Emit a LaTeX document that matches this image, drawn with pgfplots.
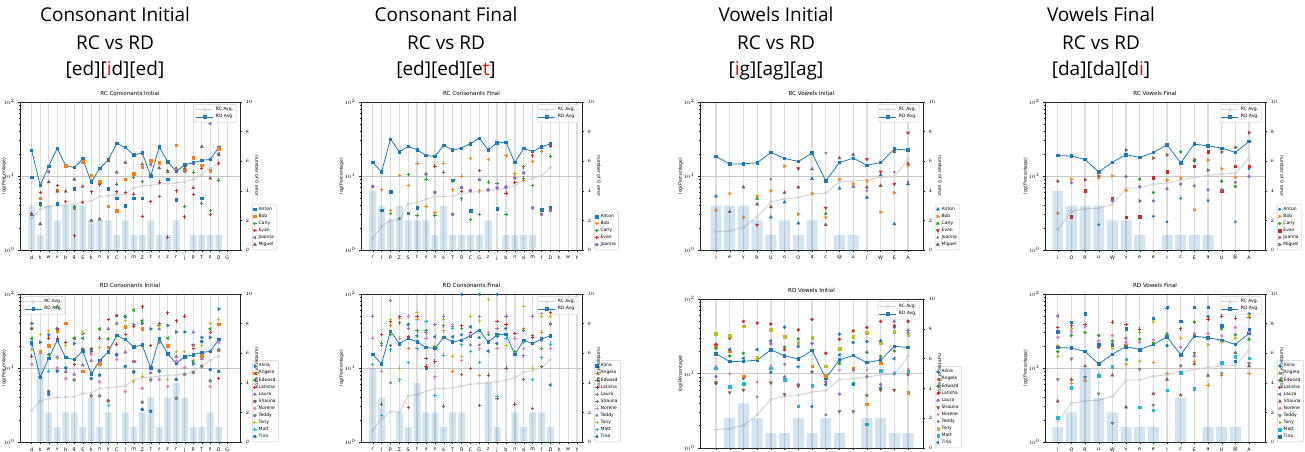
\documentclass[border=0pt]{standalone}
\usepackage{pgfplots}
\pgfplotsset{compat=1.18}
\usepackage{fontspec}
\setmainfont{DejaVu Sans}
\newfontfamily\titlefont{Open Sans}
\definecolor{c0}{HTML}{1F77B4}
\definecolor{c1}{HTML}{FF7F0E}
\definecolor{c2}{HTML}{2CA02C}
\definecolor{c3}{HTML}{D62728}
\definecolor{c4}{HTML}{9467BD}
\definecolor{c5}{HTML}{8C564B}
\definecolor{c6}{HTML}{E377C2}
\definecolor{c7}{HTML}{7F7F7F}
\definecolor{c8}{HTML}{BCBD22}
\definecolor{c9}{HTML}{17BECF}
\definecolor{rcg}{HTML}{D3D3D3}
\definecolor{gridc}{HTML}{DDDDDD}
\pgfplotsset{
  every axis x grid/.append style={gridc, line width=1.3pt},
  every axis y grid/.append style={black!22, line width=0.6pt},
  mainax/.style={scale only axis, anchor=south west,
    tick align=outside, xtick pos=left, ytick pos=left,
    major tick length=2pt, minor tick length=1.2pt,
    tick style={line width=0.4pt, black!85},
    axis line style={line width=0.5pt, black!85},
    xmajorgrids, ymajorgrids,
    ylabel={log(Percentage)}, ylabel style={font=\fontsize{4.6}{5}\selectfont}, ylabel shift=-6pt,
    ticklabel style={font=\fontsize{4.8}{5}\selectfont},
    title style={font=\fontsize{5.6}{6}\selectfont, yshift=-3pt},
    legend style={font=\fontsize{4.5}{5}\selectfont, draw=black!20, rounded corners=1pt,
      inner sep=0.8pt, row sep=-1.5pt, fill=white, fill opacity=0.8, text opacity=1},
    legend cell align=left},
  rcline/.style={color=rcg, line width=0.9pt, mark=*, mark size=1.3pt},
  rdline/.style={color=c0, line width=0.8pt, mark=square*, mark size=1.2pt},
  scatax/.style={scale only axis, anchor=south west, hide axis,
    legend style={at={(1.055,0)}, anchor=south west, font=\fontsize{4.5}{5}\selectfont,
      draw=black!20, rounded corners=1pt, inner sep=0.8pt, row sep=-1.8pt},
    legend cell align=left},
  barax/.style={scale only axis, anchor=south west, ymin=0, ymax=10,
    axis x line=none, axis y line*=right, ytick={0,2,...,10},
    tick align=outside, major tick length=2pt, tick style={line width=0.4pt, black!85},
    axis line style={line width=0.5pt, black!85},
    ylabel={number of 0 error}, ylabel style={rotate=180, font=\fontsize{4.6}{5}\selectfont}, ylabel shift=-4pt,
    ticklabel style={font=\fontsize{4.8}{5}\selectfont}},
  barplot/.style={ybar, bar width=0.8, bar shift=0pt, fill=c0, fill opacity=0.2, draw=none},
  msq/.style={only marks, mark=square*, mark size=1.3pt},
  mpl/.style={only marks, mark=+, mark size=1.7pt, line width=0.9pt},
  mci/.style={only marks, mark=*, mark size=1.5pt},
  mtu/.style={only marks, mark=triangle*, mark size=1.8pt},
  mtd/.style={only marks, mark=triangle*, mark size=1.8pt, mark options={rotate=180}},
  mtl/.style={only marks, mark=triangle*, mark size=1.8pt, mark options={rotate=90}},
  mtr/.style={only marks, mark=triangle*, mark size=1.8pt, mark options={rotate=-90}},
  moc/.style={only marks, mark=pentagon*, mark size=1.6pt},
  gAt/.style={at={(20pt,201pt)}, width=220pt, height=148pt, xmin=-1.376, xmax=24.5},
  gAb/.style={at={(20pt,9pt)}, width=220pt, height=148pt, xmin=-1.376, xmax=24.5},
  gBt/.style={at={(361pt,201pt)}, width=221pt, height=148pt, xmin=-1.32, xmax=23.56},
  gBb/.style={at={(361pt,9pt)}, width=221pt, height=148pt, xmin=-1.32, xmax=23.56},
  gCt/.style={at={(700pt,201pt)}, width=223pt, height=148pt, xmin=-1.165, xmax=15.09},
  gCb/.style={at={(700pt,3pt)}, width=223pt, height=149pt, xmin=-1.165, xmax=15.09},
  gDt/.style={at={(1045pt,201pt)}, width=220pt, height=148pt, xmin=-0.93, xmax=15.17},
  gDb/.style={at={(1045pt,9pt)}, width=220pt, height=148pt, xmin=-0.93, xmax=15.17},
}
\begin{document}
\begin{tikzpicture}
\useasboundingbox (0,0) rectangle (1305pt,451pt);
\tikzset{bt/.style={font=\titlefont\fontsize{19}{23}\selectfont, anchor=base}}
\node[bt] at (115pt,429pt) {Consonant Initial};
\node[bt] at (115pt,402pt) {RC vs RD};
\node[bt] at (115pt,376pt) {[ed][\textcolor{red}{i}d][ed]};
\node[bt] at (446pt,429pt) {Consonant Final};
\node[bt] at (446pt,402pt) {RC vs RD};
\node[bt] at (446pt,376pt) {[ed][ed][e\textcolor{red}{t}]};
\node[bt] at (776pt,429pt) {Vowels Initial};
\node[bt] at (776pt,402pt) {RC vs RD};
\node[bt] at (776pt,376pt) {[\textcolor{red}{i}g][ag][ag]};
\node[bt] at (1101pt,429pt) {Vowels Final};
\node[bt] at (1101pt,402pt) {RC vs RD};
\node[bt] at (1101pt,376pt) {[da][da][d\textcolor{red}{i}]};

% ================= COLUMN 1 TOP
\begin{axis}[mainax, gAt, ylabel shift=-9.5pt, ymode=log, ymin=1, ymax=100, xtick={0,...,23}, xticklabels={d,h,w,v,b,g,S,k,n,y,C,l,m,Z,t,f,z,r,j,p,T,s,D,G},
  title={RC Consonants Initial}, legend style={at={(0.985,0.985)}, anchor=north east}]
\addplot[rcline] coordinates {(0,2.69)(1,3.56)(2,3.88)(3,4.0)(4,4.04)(5,4.08)(6,4.53)(7,4.58)(8,5.3)(9,5.41)(10,5.58)(11,5.7)(12,6.87)(13,7.39)(14,7.47)(15,7.79)(16,7.95)(17,8.04)(18,8.37)(19,8.92)(20,10.5)(21,12.8)(22,14.5)};
\addlegendentry{RC Avg.}
\addplot[rdline] coordinates {(0,22.2)(1,7.5)(2,13.5)(3,23.6)(4,13.8)(5,13.0)(6,17.0)(7,8.3)(8,12.6)(9,16.5)(10,27.5)(11,24.3)(12,19.3)(13,20.4)(14,10.0)(15,24.7)(16,15.5)(17,11.5)(18,14.2)(19,15.1)(20,16.2)(21,16.8)(22,24.3)};
\addlegendentry{RD Avg.}
\end{axis}
\begin{axis}[scatax, gAt, ymode=log, ymin=1, ymax=100]
\addplot[msq,c0] coordinates {(0,9.6)(1,4.2)(3,4.2)(5,6.7)(6,16.8)(7,8.4)(9,6.7)(10,5.0)(11,4.0)(12,5.0)(13,5.0)(14,10)(16,9.0)(17,4.8)(20,5.0)(22,24.3)};
\addlegendentry{Anton}
\addplot[msq,c1] coordinates {(1,5.0)(3,6.4)(4,13.9)(5,3.7)(6,15.6)(7,10.3)(8,8.4)(9,3.9)(10,3.4)(11,9.1)(12,10.8)(13,13.1)(14,16.2)(15,15)(17,26.1)(18,12)(19,17.8)(20,14)(21,11.9)(22,23.6)};
\addlegendentry{Bob}
\addplot[mpl,c2] coordinates {(1,4.0)(5,3.8)(10,7.8)(12,9.6)(13,8.5)(15,5.3)(16,11.9)(18,3.9)(19,11.3)(20,4.3)(21,3.4)(22,8.8)};
\addlegendentry{Carly}
\addplot[mpl,c3] coordinates {(0,3.1)(1,6.0)(3,7.4)(4,4.5)(5,1.55)(6,4.4)(7,6.1)(8,7.6)(10,6.1)(11,6.0)(12,5.7)(13,2.85)(14,4.5)(15,8.3)(16,1.5)(17,6.3)(18,2.8)(19,5.6)(20,12.6)(21,3.0)(22,14.9)};
\addlegendentry{Evan}
\addplot[mtl,c4] coordinates {(2,11.4)(14,14.3)(18,11.4)(19,14.6)(21,51)(22,20)};
\addlegendentry{Joanna}
\addplot[mtu,c5] coordinates {(0,3.0)(1,2.25)(2,8.3)(3,6.2)(4,6.2)(5,9.0)(6,7.2)(7,2.5)(8,2.6)(9,16.0)(10,11.2)(11,15.2)(13,14.4)(15,12.8)(16,11.3)(17,12.6)(18,12.7)(19,6.9)(20,24.8)(21,9.3)(22,19.2)};
\addlegendentry{Miguel}
\end{axis}
\begin{axis}[barax, gAt]
\addplot[barplot] coordinates {(0,3)(1,1)(2,3)(3,2)(4,3)(5,3)(6,3)(7,2)(8,2)(9,2)(10,1)(11,2)(12,1)(13,1)(14,2)(15,1)(16,1)(17,2)(18,0)(19,1)(20,1)(21,1)(22,1)(23,0)};
\end{axis}

% ================= COLUMN 1 BOTTOM
\begin{axis}[mainax, gAb, ylabel shift=-9.5pt, ymode=log, ymin=1, ymax=100, xtick={0,...,23}, xticklabels={d,h,w,v,b,g,S,k,n,y,C,l,m,Z,t,f,z,r,j,p,T,s,D,G},
  title={RD Consonants Initial}, legend style={at={(0.015,0.985)}, anchor=north west}]
\addplot[rcline] coordinates {(0,2.69)(1,3.56)(2,3.88)(3,4.0)(4,4.04)(5,4.08)(6,4.53)(7,4.58)(8,5.3)(9,5.41)(10,5.58)(11,5.7)(12,6.87)(13,7.39)(14,7.47)(15,7.79)(16,7.95)(17,8.04)(18,8.37)(19,8.92)(20,10.5)(21,12.8)(22,14.5)};
\addlegendentry{RC Avg.}
\addplot[rdline] coordinates {(0,22.2)(1,7.5)(2,13.5)(3,23.6)(4,13.8)(5,13.0)(6,17.0)(7,8.3)(8,12.6)(9,16.5)(10,27.5)(11,24.3)(12,19.3)(13,20.4)(14,10.0)(15,24.7)(16,15.5)(17,11.5)(18,14.2)(19,15.1)(20,16.2)(21,16.8)(22,24.3)};
\addlegendentry{RD Avg.}
\end{axis}
\begin{axis}[scatax, gAb, ymode=log, ymin=1, ymax=100]
\addplot[mtr,c0] coordinates {(0,40)(1,22.3)(2,28.1)(5,21.4)(6,29.3)(7,16.7)(11,49.5)(12,38.4)(13,40)(14,33.8)(16,37.5)(17,30.7)(18,30.7)(19,11.4)(20,25.9)(21,25.9)(22,62.7)};
\addlegendentry{Alina}
\addplot[msq,c1] coordinates {(1,16.7)(2,20.1)(3,31.7)(4,40.4)(5,25.3)(6,9.1)(8,11.2)(9,19.1)(11,36)(12,12.4)(13,33.8)(16,20.1)(20,14.6)(22,39.2)};
\addlegendentry{Angela}
\addplot[mtl,c2] coordinates {(0,25)(2,15.2)(3,67.3)(5,25.3)(6,25.3)(8,33.6)(9,24.8)(11,49.5)(12,60.6)(13,43.4)(15,37.5)(16,25.3)(19,12.4)(21,33.8)};
\addlegendentry{Edward}
\addplot[mpl,c3] coordinates {(0,14.5)(2,25.3)(3,25.3)(4,22.3)(5,11.2)(7,18.3)(8,25.3)(9,45.3)(10,21.1)(11,28.6)(12,36.8)(13,67)(14,20.1)(15,40)(16,55.7)(17,43.4)(18,50.2)(19,18.5)(21,30.1)(22,7.2)};
\addlegendentry{Latisha}
\addplot[mtu,c4] coordinates {(3,14)(4,8.9)(5,8.2)(6,11)(7,12.5)(8,12.2)(9,33.8)(10,40)(11,16.3)(12,12.2)(14,8.6)(15,33.6)(17,14.2)(19,30.4)(20,13.3)};
\addlegendentry{Laura}
\addplot[moc,c5] coordinates {(0,34)(2,4.8)(3,33.8)(6,17.9)(7,17.9)(9,3.6)(10,50.9)(19,20.3)(22,17.5)};
\addlegendentry{Shauna}
\addplot[mci,c6] coordinates {(0,11.2)(3,10)(4,7.2)(7,15.3)(8,6.5)(10,13.1)(11,4.8)(13,5.3)(15,7)(16,5.6)(17,12.4)(18,10.1)(21,5.6)(22,22.3)};
\addlegendentry{Norene}
\addplot[moc,c7] coordinates {(5,6.9)(7,4.2)(8,4.2)(10,15.3)(12,8.8)(13,3.45)(14,6.9)(15,22.3)(17,3.9)(18,8.2)(19,8.7)(20,10.6)(21,6.7)(22,17.3)};
\addlegendentry{Teddy}
\addplot[mpl,c8] coordinates {(0,18)(1,28.6)(2,31.7)(3,13.5)(4,20.3)(6,30.7)(8,18.9)(11,43.8)(12,6.5)(13,7.8)(15,36.5)(16,7.1)(17,16.7)(18,16.7)(19,19.4)(20,20.1)(21,40)(22,45.3)};
\addlegendentry{Tony}
\addplot[mpl,c9] coordinates {(2,9.1)(9,3.1)};
\addlegendentry{Matt}
\addplot[moc,c0] coordinates {(0,21)(1,7.5)(2,4.4)(3,9.1)(4,10)(6,17)(7,7.2)(8,8)(10,15)(11,10.5)(12,8.9)(13,2.75)(14,2.6)(15,9.1)(17,7)(20,22.8)(21,9.5)(22,9)};
\addlegendentry{Tina}
\end{axis}
\begin{axis}[barax, gAb]
\addplot[barplot] coordinates {(0,0)(1,6)(2,2)(3,1)(4,2)(5,2)(6,1)(7,3)(8,1)(9,2)(10,0)(11,2)(12,1)(13,2)(14,3)(15,1)(16,3)(17,4)(18,3)(19,1)(20,1)(21,2)(22,1)(23,0)};
\end{axis}

% ================= COLUMN 2 TOP
\begin{axis}[mainax, gBt, ymode=log, ymin=1, ymax=100, xtick={0,...,23}, xticklabels={r,l,p,Z,S,t,v,s,k,T,g,C,G,z,j,b,n,d,m,f,D,h,w,y},
  title={RC Consonants Final}, legend style={at={(0.985,0.985)}, anchor=north east}]
\addplot[rcline] coordinates {(0,1.44)(1,2.07)(2,2.55)(3,2.55)(4,4.2)(5,4.38)(6,4.86)(7,5.28)(8,5.28)(9,5.39)(10,5.73)(11,6.04)(12,6.17)(13,6.36)(14,6.5)(15,6.84)(16,7.44)(17,8.69)(18,9.25)(19,10.05)(20,13.0)};
\addlegendentry{RC Avg.}
\addplot[rdline] coordinates {(0,15.2)(1,11.4)(2,31.5)(3,21.3)(4,25.1)(5,22.6)(6,18.9)(7,18.4)(8,25.9)(9,22.4)(10,23.8)(11,27.3)(12,32.5)(13,22.4)(14,28.1)(15,28.7)(16,15.2)(17,23.6)(18,21.5)(19,24.6)(20,27.3)};
\addlegendentry{RD Avg.}
\end{axis}
\begin{axis}[scatax, gBt, ymode=log, ymin=1, ymax=100]
\addplot[msq,c0] coordinates {(1,3.45)(2,6.1)(4,3.14)(5,3.75)(9,8.8)(11,3.4)(14,3.6)(19,3.5)(20,3.75)};
\addlegendentry{Anton}
\addplot[mpl,c1] coordinates {(1,6.5)(2,3.4)(3,10.1)(4,7.5)(5,15)(6,3.86)(7,3.24)(8,15)(9,6.5)(10,10)(11,17.5)(12,6.3)(13,16.6)(15,18.7)(16,10.7)(17,8.7)(18,15.6)(19,21.2)};
\addlegendentry{Bob}
\addplot[mpl,c2] coordinates {(2,3.14)(3,2.65)(4,10.4)(5,2.95)(6,9.1)(7,2.95)(8,11.3)(9,8.4)(10,4.9)(11,2.6)(12,3.04)(13,8.3)(14,7.9)(15,3.04)(17,9.4)(18,7.4)(20,18.4)};
\addlegendentry{Carly}
\addplot[mpl,c3] coordinates {(7,13.6)(10,6.2)(12,11.9)(15,5.9)(16,8.2)(17,13.3)(18,18.7)(20,25.1)};
\addlegendentry{Evan}
\addplot[moc,c4] coordinates {(0,7.2)(6,10.6)(7,6.0)(9,3.04)(10,7)(11,6.36)(12,8.9)(13,6.5)(14,6.9)(15,7.1)(16,9.4)(17,11)(18,3.7)(19,3.04)(20,3.4)};
\addlegendentry{Joanna}
\end{axis}
\begin{axis}[barax, gBt]
\addplot[barplot] coordinates {(0,4)(1,3)(2,2)(3,3)(4,2)(5,2)(6,2)(7,1)(8,3)(9,1)(10,1)(11,1)(12,1)(13,2)(14,0)(15,1)(16,1)(17,1)(18,1)(19,0)(20,0)(21,0)(22,0)(23,0)};
\end{axis}

% ================= COLUMN 2 BOTTOM
\begin{axis}[mainax, gBb, ymode=log, ymin=1, ymax=100, xtick={0,...,23}, xticklabels={r,l,p,Z,S,t,v,s,k,T,g,C,G,z,j,b,n,d,m,f,D,h,w,y},
  title={RD Consonants Final}, legend style={at={(0.985,0.985)}, anchor=north east}]
\addplot[rcline] coordinates {(0,1.44)(1,2.07)(2,2.55)(3,2.55)(4,4.2)(5,4.38)(6,4.86)(7,5.28)(8,5.28)(9,5.39)(10,5.73)(11,6.04)(12,6.17)(13,6.36)(14,6.5)(15,6.84)(16,7.44)(17,8.69)(18,9.25)(19,10.05)(20,13.0)};
\addlegendentry{RC Avg.}
\addplot[rdline] coordinates {(0,15.2)(1,11.4)(2,31.5)(3,21.3)(4,25.1)(5,22.6)(6,18.9)(7,18.4)(8,25.9)(9,22.4)(10,23.8)(11,27.3)(12,32.5)(13,22.4)(14,28.1)(15,28.7)(16,15.2)(17,23.6)(18,21.5)(19,24.6)(20,27.3)};
\addlegendentry{RD Avg.}
\end{axis}
\begin{axis}[scatax, gBb, ymode=log, ymin=1, ymax=100]
\addplot[msq,c0] coordinates {(6,10)};
\addlegendentry{Alina}
\addplot[mpl,c1] coordinates {(2,37.9)(3,46.8)(4,18.5)(5,45.3)(6,30)(7,38.4)(8,31.8)(9,9.1)(12,7.9)(17,34.1)(19,30.7)};
\addlegendentry{Angela}
\addplot[mpl,c2] coordinates {(1,21.8)(2,28.6)(3,40.8)(5,31.8)(6,31.8)(7,19.4)(8,37.1)(10,34.4)(13,28.6)(14,27.2)(16,16.7)(17,32.5)(18,27.5)(19,18.5)(20,38.4)};
\addlegendentry{Edward}
\addplot[mpl,c3] coordinates {(1,28.6)(2,42.2)(3,49.5)(4,26.9)(5,49.5)(6,10.6)(7,12.1)(10,37.1)(11,30)(14,42.2)(15,38.4)(16,29.3)(18,26.1)(20,55.7)};
\addlegendentry{Latisha}
\addplot[mpl,c4] coordinates {(0,50.3)(1,20.1)(2,82)(4,34.1)(6,29.8)(7,38.4)(8,50.3)(9,36.5)(12,49.5)(14,34.1)(15,50.3)(17,14.6)(18,50.3)};
\addlegendentry{Laura}
\addplot[mpl,c5] coordinates {(1,3.25)(2,20.1)(3,6.9)(4,2.9)(6,13.5)(7,12.4)(8,3.05)(10,8.2)(11,9.9)(12,3.1)(13,8.0)(14,3.9)(15,10)(16,3.25)(17,7)(18,2.83)(19,10.4)};
\addlegendentry{Shauna}
\addplot[mpl,c6] coordinates {(0,25.3)(1,9.1)(3,25.3)(4,50.3)(5,18.1)(6,25.3)(7,7.6)(9,38.4)(10,12.6)(11,28.1)(12,18.1)(13,30.4)(14,18.3)(16,25.3)(17,18.1)(19,54.6)(20,18.5)};
\addlegendentry{Norene}
\addplot[mci,c7,mark size=1.2pt] coordinates {(2,6.3)(11,20.5)(12,20.5)(19,23.4)(20,40)};
\addlegendentry{Teddy}
\addplot[mpl,c8] coordinates {(2,45.3)(3,10)(4,40)(5,56.4)(8,45.7)(9,14.4)(10,14.4)(11,50.3)(12,43.4)(13,84.9)(15,20.3)(17,67.3)(18,10)(19,50.3)(20,50.3)};
\addlegendentry{Tony}
\addplot[mpl,c9] coordinates {(0,11.2)(1,2.3)(2,17.6)(3,7)(4,11.8)(5,18.5)(6,42.5)(7,4.25)(8,15)(9,34.1)(10,20.5)(11,16.7)(12,11.8)(14,4.1)(15,25.3)(17,22)(18,7)(19,13.7)(20,21)};
\addlegendentry{Matt}
\addplot[mtl,c0] coordinates {(4,38.4)(5,27.2)(7,26.4)(9,26.4)(10,28.1)(11,36)(12,25.9)(13,16.9)(14,21.4)(15,34.1)(20,5.9)(10,99)(12,99)(14,99)};
\addlegendentry{Tina}
\end{axis}
\begin{axis}[barax, gBb]
\addplot[barplot] coordinates {(0,5)(1,3)(2,0)(3,2)(4,1)(5,4)(6,2)(7,2)(8,1)(9,2)(10,2)(11,0)(12,0)(13,4)(14,1)(15,0)(16,2)(17,1)(18,2)(19,2)(20,1)(21,0)(22,0)(23,0)};
\end{axis}

% ================= COLUMN 3 TOP
\begin{axis}[mainax, gCt, ymode=log, ymin=1, ymax=100, xtick={0,...,14}, xticklabels={I,e,Y,R,U,o,O,a,c,@,u,i,W,E,A},
  title={RC Vowels Initial}, legend style={at={(0.985,0.985)}, anchor=north east}]
\addplot[rcline] coordinates {(0,1.77)(1,1.81)(2,2.01)(3,2.8)(4,4.47)(5,4.91)(6,5.11)(7,5.67)(8,5.92)(9,8.34)(10,8.51)(11,8.87)(12,9.64)(13,9.75)(14,16.9)};
\addlegendentry{RC Avg.}
\addplot[rdline] coordinates {(0,18.4)(1,14.5)(2,14.6)(3,15.1)(4,20.8)(5,17.3)(6,15.7)(7,20.4)(8,8.6)(9,15.2)(10,17.4)(11,14.0)(12,15.2)(13,23.1)(14,22.4)};
\addlegendentry{RD Avg.}
\end{axis}
\begin{axis}[scatax, gCt, ymode=log, ymin=1, ymax=100]
\addplot[mtu,c0] coordinates {(0,5.33)(4,2.77)(5,4.42)(6,2.3)(7,9.2)(9,6.8)(10,7.2)(11,5.1)(12,10.3)(13,2.25)(14,7.8)};
\addlegendentry{Anton}
\addplot[mtr,c1] coordinates {(0,3.45)(1,5.8)(2,2.77)(3,5.33)(4,6.3)(5,13.6)(6,3.04)(7,5.8)(8,2.77)(9,9.04)(10,7.8)(11,8.5)(12,3.24)(13,5.9)(14,13.9)};
\addlegendentry{Bob}
\addplot[mtu,c2] coordinates {(3,4.96)(8,3.1)};
\addlegendentry{Carly}
\addplot[mtd,c3] coordinates {(3,2.18)(6,12.6)(8,3.7)(11,16.9)(12,11.4)(13,7.8)(14,38.5)};
\addlegendentry{Evan}
\addplot[mci,c4,mark size=1.1pt] coordinates {(4,9.04)(8,20.4)(10,7.2)(11,6.36)(13,11.3)(14,8.34)};
\addlegendentry{Joanna}
\addplot[mtu,c5] coordinates {(1,3.3)(2,7.06)(3,4.15)(4,3.82)(5,6.0)(6,7.06)(7,12.4)(8,2.18)(9,17.5)(10,19.5)(11,7.06)(12,7.4)(13,21.2)(14,14.7)};
\addlegendentry{Miguel}
\end{axis}
\begin{axis}[barax, gCt]
\addplot[barplot] coordinates {(0,3)(1,3)(2,3)(3,2)(4,1)(5,2)(6,1)(7,2)(8,0)(9,1)(10,1)(11,0)(12,0)(13,0)(14,0)};
\end{axis}

% ================= COLUMN 3 BOTTOM
\begin{axis}[mainax, gCb, ymode=log, ymin=1, ymax=100, xtick={0,...,14}, xticklabels={I,e,Y,R,U,o,O,a,c,@,u,i,W,E,A},
  title={RD Vowels Initial}, legend style={at={(0.985,0.985)}, anchor=north east}]
\addplot[rcline] coordinates {(0,1.77)(1,1.81)(2,2.01)(3,2.8)(4,4.47)(5,4.91)(6,5.11)(7,5.67)(8,5.92)(9,8.34)(10,8.51)(11,8.87)(12,9.64)(13,9.75)(14,16.9)};
\addlegendentry{RC Avg.}
\addplot[rdline] coordinates {(0,18.4)(1,14.5)(2,14.6)(3,15.1)(4,20.8)(5,17.3)(6,15.7)(7,20.4)(8,8.6)(9,15.2)(10,17.4)(11,14.0)(12,15.2)(13,23.1)(14,22.4)};
\addlegendentry{RD Avg.}
\end{axis}
\begin{axis}[scatax, gCb, ymode=log, ymin=1, ymax=100]
\addplot[mci,c0] coordinates {(0,7.4)(2,8.6)(4,10.4)(5,41.9)(6,23.0)(9,33.7)(10,26.1)(11,26.9)(12,27.4)(13,41.9)};
\addlegendentry{Alina}
\addplot[msq,c1] coordinates {(0,23.7)(1,19.9)(2,9.25)(7,12.5)(8,9.35)(10,11.8)(11,3.88)(12,13.7)(14,5.57)};
\addlegendentry{Angela}
\addplot[mci,c2] coordinates {(0,21.8)(1,17.2)(2,18.7)(3,15.7)(5,22.6)(6,29.2)(9,13.6)(11,19.3)(12,17.0)(13,20.1)(14,34.8)};
\addlegendentry{Edward}
\addplot[mci,c3] coordinates {(0,24.7)(1,29.8)(2,50)(3,47.5)(4,46.1)(5,20.9)(6,38.6)(7,53.3)(8,18.7)(9,28.8)(10,37.3)(11,41.4)(12,50)(13,43.7)(14,50)};
\addlegendentry{Latisha}
\addplot[mci,c4] coordinates {(0,9.06)(4,25)(5,9.06)(6,7.1)(7,25.3)(8,7.75)(9,5.3)(10,11.1)(11,9.1)(12,7.1)(13,50)(14,38.1)};
\addlegendentry{Laura}
\addplot[mtd,c5] coordinates {(0,7.6)(1,5.57)(2,6.0)(4,7.5)(5,5.25)(6,6.8)(7,10.5)(9,3.1)(10,3.1)(11,5.08)(12,6.0)(13,6.0)(14,9.7)};
\addlegendentry{Shauna}
\addplot[mci,c6,mark size=1.2pt] coordinates {(0,12.6)(1,9.9)(3,7.68)(4,12.6)(9,11.1)(11,11.2)(13,10.3)(14,11.4)};
\addlegendentry{Norene}
\addplot[mci,c7,mark size=1.2pt] coordinates {(3,4.86)(5,13.3)(8,2.78)};
\addlegendentry{Teddy}
\addplot[msq,c8] coordinates {(0,34.1)(1,32.3)(2,43.1)(3,16.3)(4,38.6)(5,31.3)(6,26.1)(7,30.1)(8,12.5)(9,21.4)(10,31.3)(11,35.4)(12,25.6)(13,36.4)(14,33)};
\addlegendentry{Tony}
\addplot[msq,c9] coordinates {(0,11.8)(1,6.6)(2,7.3)(4,11.8)(5,8.2)(6,3.65)(7,6.9)(10,7.3)(11,2.1)(12,11.0)(13,10.1)(14,10.6)};
\addlegendentry{Matt}
\addplot[mtl,c0] coordinates {(1,21.1)(2,16)(3,20.9)(4,27.4)(6,12.3)(7,3.6)(8,7.1)(9,17.8)(10,7.2)(12,6.4)(13,15.8)};
\addlegendentry{Tina}
\end{axis}
\begin{axis}[barax, gCb]
\addplot[barplot] coordinates {(0,0)(1,2)(2,3)(3,2)(4,1)(5,1)(6,2)(7,1)(8,2)(9,1)(10,0)(11,2)(12,2)(13,1)(14,1)};
\end{axis}

% ================= COLUMN 4 TOP
\begin{axis}[mainax, gDt, ymode=log, ymin=1, ymax=100, xtick={0,...,14}, xticklabels={i,O,R,u,W,Y,e,e,I,c,E,a,U,@,A},
  title={RC Vowels Final}, legend style={at={(0.985,0.985)}, anchor=north east}]
\addplot[rcline] coordinates {(0,1.91)(1,3.34)(2,3.59)(3,3.67)(4,4.11)(5,6.84)(6,6.91)(7,7.75)(8,8.08)(9,8.87)(10,9.55)(11,10.2)(12,10.6)(13,10.9)(14,17.4)};
\addlegendentry{RC Avg.}
\addplot[rdline] coordinates {(0,18.9)(1,18.6)(2,16.7)(3,11.3)(4,15.4)(5,19.4)(6,17.8)(7,20.8)(8,26.4)(9,15.1)(10,27)(11,25.6)(12,23.8)(13,20.8)(14,29.3)};
\addlegendentry{RD Avg.}
\end{axis}
\begin{axis}[scatax, gDt, ymode=log, ymin=1, ymax=100]
\addplot[mci,c0,mark size=1.2pt] coordinates {(3,2.2)(7,2.85)(8,2.4)(9,5.0)(11,4.66)(13,2.4)(14,12.6)};
\addlegendentry{Anton}
\addplot[mtr,c1] coordinates {(0,3.14)(1,9.04)(3,9.4)(4,10)(5,6.36)(8,8.8)(9,9.4)(10,3.48)(11,16.4)(12,12.5)(13,9.6)};
\addlegendentry{Bob}
\addplot[mci,c2] coordinates {(6,9.04)(7,6.0)(9,21.2)(10,16.0)(12,8.5)(13,7.2)};
\addlegendentry{Carly}
\addplot[msq,c3] coordinates {(1,2.8)(2,6.3)(4,4.96)(5,2.77)(6,2.8)(7,9.4)(8,11.5)(10,13.6)(11,21.2)(12,6.3)(13,13.6)(14,13.6)};
\addlegendentry{Evan}
\addplot[mci,c4] coordinates {(1,8.1)(4,4.6)(5,9.8)(6,7.2)(7,4.6)(8,6.7)(9,7.8)(10,7.4)(11,6.5)(12,6.5)(13,8.24)(14,9.9)};
\addlegendentry{Joanna}
\addplot[mtr,c5] coordinates {(0,8.5)(2,8.9)(3,10)(5,22.4)(6,4.6)(7,17.5)(8,19.3)(10,16.7)(11,12.0)(12,21.2)(13,24.4)(14,38.5)};
\addlegendentry{Miguel}
\end{axis}
\begin{axis}[barax, gDt]
\addplot[barplot] coordinates {(0,4)(1,3)(2,3)(3,3)(4,2)(5,2)(6,1)(7,0)(8,1)(9,1)(10,1)(11,1)(12,0)(13,0)(14,0)};
\end{axis}

% ================= COLUMN 4 BOTTOM
\begin{axis}[mainax, gDb, ymode=log, ymin=1, ymax=100, xtick={0,...,14}, xticklabels={i,O,R,u,W,Y,e,e,I,c,E,a,U,@,A},
  title={RD Vowels Final}, legend style={at={(0.985,0.985)}, anchor=north east}]
\addplot[rcline] coordinates {(0,1.91)(1,3.34)(2,3.59)(3,3.67)(4,4.11)(5,6.84)(6,6.91)(7,7.75)(8,8.08)(9,8.87)(10,9.55)(11,10.2)(12,10.6)(13,10.9)(14,17.4)};
\addlegendentry{RC Avg.}
\addplot[rdline] coordinates {(0,18.9)(1,18.6)(2,16.7)(3,11.3)(4,15.4)(5,19.4)(6,17.8)(7,20.8)(8,26.4)(9,15.1)(10,27)(11,25.6)(12,23.8)(13,20.8)(14,29.3)};
\addlegendentry{RD Avg.}
\end{axis}
\begin{axis}[scatax, gDb, ymode=log, ymin=1, ymax=100]
\addplot[mci,c0] coordinates {(8,20.1)(11,49.5)(14,53.7)};
\addlegendentry{Alina}
\addplot[mpl,c1] coordinates {(0,20.1)(1,6.25)(2,6.7)(5,21.1)(6,29.8)(7,11.8)(8,8.4)(10,12.4)(11,5.9)(12,7.9)(14,8.4)};
\addlegendentry{Angela}
\addplot[mci,c2] coordinates {(0,16.7)(1,27.5)(2,30.1)(3,27.5)(4,23.2)(6,24.5)(7,21.8)(8,28.9)(10,41.7)(12,33.8)(13,28.1)(14,24.5)};
\addlegendentry{Edward}
\addplot[mpl,c3] coordinates {(0,35.3)(1,37.1)(2,38.8)(3,19.2)(4,41.7)(5,38.8)(6,33.6)(8,64.6)(9,33.8)(11,45.7)(12,50.3)(13,47.2)(14,48.3)};
\addlegendentry{Latisha}
\addplot[mtl,c4] coordinates {(0,50.3)(5,25.3)(10,14.5)};
\addlegendentry{Laura}
\addplot[mtu,c5] coordinates {(0,3.56)(1,7)(2,10.6)(3,8)(4,8)(5,2.95)(7,4.5)(8,7)(9,4.3)(10,11.3)(11,7.9)(13,16.1)(14,10.6)};
\addlegendentry{Shauna}
\addplot[mci,c6] coordinates {(0,25.9)(1,30.7)(2,36.1)(3,23)(4,27.5)(5,22.3)(6,22.3)(7,23.9)(9,19.2)(10,29.3)(11,29.3)(12,27.2)(13,35.3)(14,31.1)};
\addlegendentry{Norene}
\addplot[mtd,c7] coordinates {(0,7)(1,13.3)(2,7.5)(3,4.5)(4,1.81)(6,9.6)(7,3.15)(9,10.7)(10,15.9)(12,8.4)(14,11.5)};
\addlegendentry{Teddy}
\addplot[mtr,c8] coordinates {(0,14.4)(1,33.8)(4,18.3)(5,11.2)(6,12.4)(7,42.2)(9,25.3)(11,20.5)(12,22.3)(13,25.3)(14,50.9)};
\addlegendentry{Tony}
\addplot[msq,c9] coordinates {(0,2.12)(1,5.4)(3,7.8)(4,10.4)(5,13.1)(6,2.95)(7,2.7)(8,5.0)(9,8.7)(10,5.3)(12,11.8)(13,14.2)(14,13.5)};
\addlegendentry{Matt}
\addplot[msq,c0] coordinates {(0,31.1)(1,41.7)(2,54.2)(3,20.5)(4,20.5)(5,33.8)(6,17.3)(7,47.2)(8,66.5)(9,42.9)(10,66.5)(11,66.5)(12,37.5)(13,12.3)(14,33.6)};
\addlegendentry{Tina}
\end{axis}
\begin{axis}[barax, gDb]
\addplot[barplot] coordinates {(0,1)(1,2)(2,5)(3,3)(4,2)(5,1)(6,1)(7,1)(8,0)(9,3)(10,0)(11,1)(12,1)(13,1)(14,0)};
\end{axis}
\end{tikzpicture}
\end{document}
